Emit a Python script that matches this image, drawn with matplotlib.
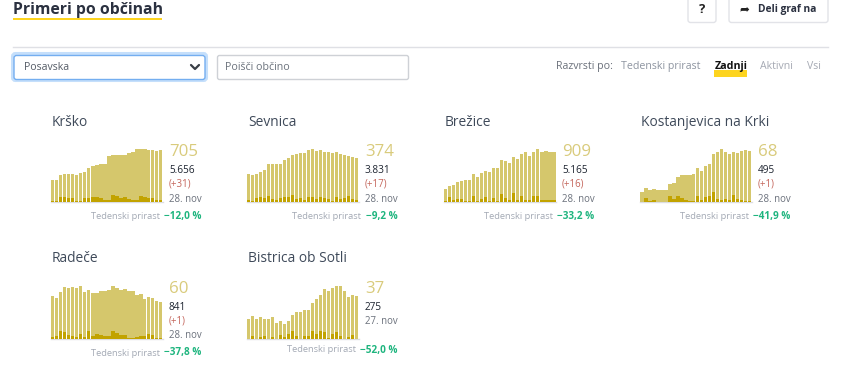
import matplotlib
matplotlib.use('Agg')
import matplotlib.pyplot as plt
from matplotlib.patches import FancyBboxPatch, Rectangle

plt.rcParams['font.family'] = ['Open Sans', 'DejaVu Sans']

# bar heights (same relative scale in every panel)
krsko_all = [22, 22, 27, 28, 28, 28, 27, 29, 30, 34, 36, 37, 38, 38, 46, 47, 47, 47, 47, 49, 50, 53, 53, 53, 52, 52, 51, 52]
krsko_new = [1, 1, 5, 5, 4, 4, 1, 1, 4, 4, 5, 5, 4, 2, 2, 7, 6, 4, 5, 3, 2, 2, 6, 5, 4, 4, 2, 2]
sevnica_all = [28, 27, 28, 30, 32, 38, 38, 38, 38, 42, 44, 47, 48, 49, 49, 52, 53, 51, 52, 50, 50, 49, 50, 48, 47, 46, 45, 44]
sevnica_new = [2, 1, 4, 5, 4, 6, 3, 2, 4, 5, 5, 7, 3, 4, 2, 5, 5, 3, 5, 4, 3, 1, 5, 3, 4, 6, 3, 2]
brezice_all = [13, 16, 17, 20, 21, 22, 22, 28, 25, 29, 31, 30, 34, 34, 42, 41, 39, 45, 43, 48, 50, 46, 50, 53, 50, 51, 50, 50]
brezice_new = [1, 5, 2, 3, 3, 1, 1, 6, 1, 3, 5, 1, 4, 1, 8, 4, 2, 9, 2, 6, 2, 2, 6, 6, 2, 2, 2, 2]
kostanjevica_all = [10, 14, 12, 13, 12, 12, 12, 18, 19, 25, 27, 27, 27, 28, 34, 31, 36, 38, 48, 50, 53, 50, 48, 50, 49, 51, 52, 51]
kostanjevica_new = [0, 4, 1, 2, 0, 0, 0, 6, 3, 6, 4, 2, 1, 1, 6, 2, 5, 6, 10, 3, 2, 3, 2, 7, 3, 2, 1, 1]
radece_all = [43, 41, 47, 52, 51, 52, 51, 53, 47, 49, 46, 46, 48, 48, 49, 53, 51, 49, 50, 48, 48, 44, 45, 40, 42, 41, 38, 37]
radece_new = [2, 3, 8, 7, 4, 3, 2, 5, 2, 8, 3, 5, 4, 3, 3, 8, 6, 4, 4, 1, 1, 2, 3, 3, 5, 4, 1, 1]
bistrica_all = [20, 23, 20, 22, 20, 20, 22, 16, 18, 15, 18, 24, 27, 27, 29, 29, 36, 40, 44, 50, 48, 51, 53, 53, 48, 42, 44, 43]
bistrica_new = [0, 3, 0, 2, 3, 0, 2, 0, 4, 2, 5, 8, 3, 0, 3, 3, 8, 5, 8, 7, 1, 5, 7, 3, 0, 2, 4, 0]

names = ['Krško', 'Sevnica', 'Brežice', 'Kostanjevica na Krki', 'Radeče', 'Bistrica ob Sotli']
latest = ['705', '374', '909', '68', '60', '37']
active = ['5.656', '3.831', '5.165', '495', '841', '275']
deltas = ['(+31)', '(+17)', '(+16)', '(+1)', '(+1)', None]
dates = ['28. nov', '28. nov', '28. nov', '28. nov', '28. nov', '27. nov']
growth = ['−12,0 %', '−9,2 %', '−33,2 %', '−41,9 %', '−37,8 %', '−52,0 %']
all_series = [krsko_all, sevnica_all, brezice_all, kostanjevica_all, radece_all, bistrica_all]
new_series = [krsko_new, sevnica_new, brezice_new, kostanjevica_new, radece_new, bistrica_new]

# layout, in pixels of the 849x389 picture
W, H = 849, 389
panel_left = [51, 247, 444, 640, 51, 247]
panel_base = [202, 202, 202, 202, 339, 339]
growth_y = [216, 216, 216, 216, 353, 350]
solid_runs = [(10, 23), (-1, -1), (24, 27), (0, 12), (10, 22), (-1, -1)]

LIGHT = '#d5c76c'
DARK = '#c2a300'
YELLOW = '#fdd41f'
INK = '#3f4a5a'
GREY = '#a3a9b4'

fig = plt.figure(figsize=(W / 100, H / 100), dpi=100, facecolor='white')
page = fig.add_axes([0, 0, 1, 1])
page.set_xlim(0, W)
page.set_ylim(H, 0)
page.axis('off')
renderer = fig.canvas.get_renderer()


def label(x, y, s, size, color, weight='normal', ha='left'):
    return page.text(x, y, s, fontsize=size, color=color, fontweight=weight, ha=ha, va='center')


def box(x0, y0, x1, y1, edge, lw=1.0, radius=2.5):
    page.add_patch(FancyBboxPatch((x0, y0), x1 - x0, y1 - y0, boxstyle=f'round,pad=0,rounding_size={radius}',
                                  fc='white', ec=edge, lw=lw))


# header
label(13.5, 9.5, 'Primeri po občinah', 11.3, '#2b3140', weight='bold')
page.add_patch(Rectangle((13, 17.5), 149, 2.2, fc=YELLOW, ec='none'))
box(688, -6, 716, 22.5, '#e2e3e8')
label(702, 9.5, '?', 9.5, '#222222', weight='bold', ha='center')
box(729, -6, 828, 22.5, '#e2e3e8')
page.text(744, 9.5, '➦', fontsize=8.5, color='#222222', ha='center', va='center', family='DejaVu Sans')
label(758, 9.5, 'Deli graf na', 7.4, '#2b3140', weight='bold')
page.plot([13, 828], [46.5, 46.5], color='#dfe0e5', lw=1)

# controls
box(12.5, 53.5, 206.5, 80.5, '#c5dffb', lw=2.2, radius=3)
box(14, 55.5, 205, 79.5, '#74aef0', lw=1)
label(24, 67, 'Posavska', 7.6, '#555c66')
page.plot([191, 195, 199], [65, 69, 65], color='#3a3f47', lw=1.6, solid_capstyle='round')
box(217.5, 55.5, 408.5, 79.5, '#ced1d6', radius=2)
label(225, 67, 'Poišči občino', 7.7, '#6b727c')

label(556, 66, 'Razvrsti po:', 7.7, '#6a707a')
label(621.5, 66, 'Tedenski prirast', 7.7, '#8d94a0')
page.add_patch(Rectangle((714, 70), 33, 7, fc=YELLOW, ec='none'))
label(714.5, 66, 'Zadnji', 7.7, '#111111', weight='bold')
label(760, 66, 'Aktivni', 7.6, '#a5a9b3')
label(807, 66, 'Vsi', 7.6, '#a5a9b3')

# municipality panels
for i, name in enumerate(names):
    left, base = panel_left[i], panel_base[i]
    ax = fig.add_axes([left / W, 1 - base / H, 112 / W, 56 / H])
    first, last = solid_runs[i]
    xs = range(len(all_series[i]))
    # 4 px per bar: 3 px wide with a 1 px gap, except where the bars touch
    widths = [1.0 if first <= k <= last else 0.75 for k in xs]
    ax.bar(xs, all_series[i], width=widths, align='edge', color=LIGHT, linewidth=0)
    ax.bar(xs, new_series[i], width=widths, align='edge', color=DARK, linewidth=0)
    ax.set_xlim(0, 28)
    ax.set_ylim(0, 56)
    ax.set_xticks([])
    ax.set_yticks([])
    ax.patch.set_alpha(0)
    for side in ['top', 'left', 'right']:
        ax.spines[side].set_visible(False)
    ax.spines['bottom'].set_color('#dcdde2')
    ax.spines['bottom'].set_linewidth(1)
    ax.spines['bottom'].set_zorder(0.5)

    label(left + 1, base - 80, name, 9.9, INK)
    tx = left + 118
    label(tx, base - 50, latest[i], 12.2, '#d9cb7c')
    label(tx, base - 32, active[i], 7.2, '#1d2430')
    if deltas[i] is not None:
        label(tx, base - 18, deltas[i], 7, '#c4665c')
        label(tx, base - 3, dates[i], 6.9, '#6b717c')
    else:
        label(tx, base - 18, dates[i], 6.9, '#6b717c')
    # the grey caption sits just left of the green number, whatever its width
    green = label(left + 150.5, growth_y[i], growth[i], 7.2, '#1fb57f', weight='bold', ha='right')
    green_w = green.get_window_extent(renderer).width
    label(left + 150.5 - green_w - 4.5, growth_y[i], 'Tedenski prirast', 6.7, GREY, ha='right')

fig.savefig('out.png', dpi=100)
